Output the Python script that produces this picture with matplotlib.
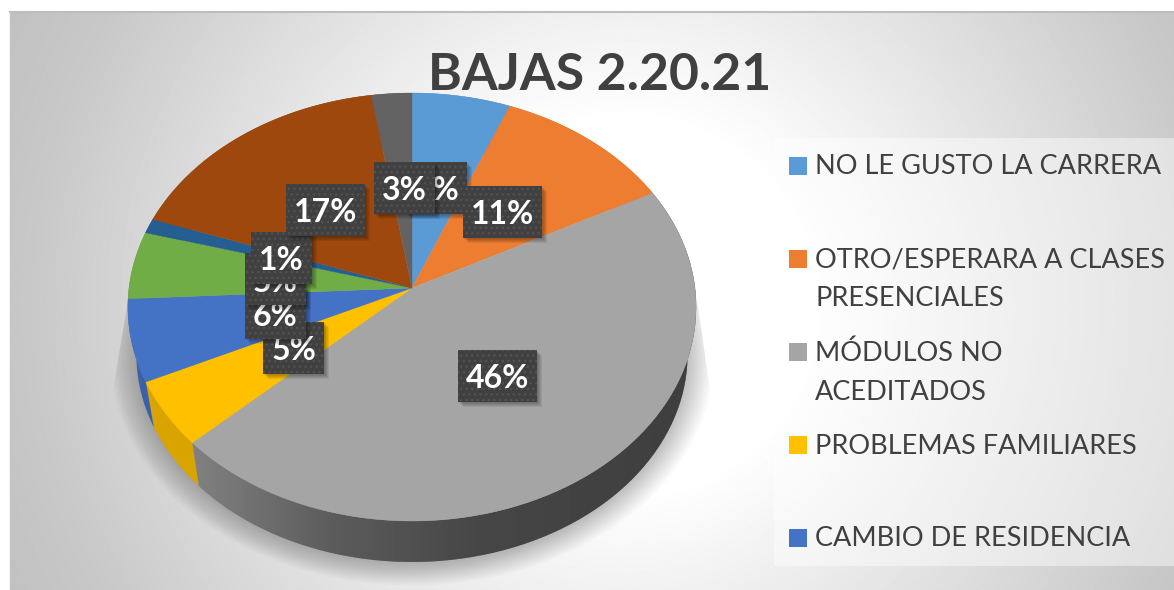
import matplotlib
matplotlib.use("Agg")
import matplotlib.pyplot as plt
import numpy as np
from matplotlib.patches import Polygon, Rectangle

title = "BAJAS 2.20.21"
legend_labels = [
    "NO LE GUSTO LA CARRERA",
    "OTRO/ESPERARA A CLASES\nPRESENCIALES",
    "MÓDULOS NO\nACEDITADOS",
    "PROBLEMAS FAMILIARES",
    "CAMBIO DE RESIDENCIA",
]
# slice sizes, labels as printed on it
values = [6.1, 11.2, 45.7, 5.0, 6.2, 5.1, 1.1, 17.1, 2.5]
data_labels = ["6%", "11%", "46%", "5%", "6%", "5%", "1%", "17%", "3%"]
colors = ["#5B9BD5", "#ED7D31", "#A5A5A5", "#FFC000", "#4472C4",
          "#70AD47", "#255E91", "#9E480E", "#636363"]
label_pos = [(436.5, 187.5), (502.5, 212), (497.5, 375.5), (293.5, 348),
             (275.5, 313), (275, 279), (281.5, 258), (325.5, 210), (404.5, 187.5)]

W, H = 1174, 590
CX, CY = 412, 288
RX, RY, K = 283, 212.3, 0.0888
DEPTH, SHRINK = 48, 0.97

plt.rcParams["font.family"] = ["Lato", "DejaVu Sans"]


def project(theta, scale=1.0, dy=0.0):
    # theta clockwise from 12 o'clock, perspective view of the pie circle
    x = np.sin(theta)
    y = np.cos(theta)
    d = 1 + K * y
    return np.column_stack([CX + scale * RX * x / d, CY + dy - scale * RY * y / d])


fig = plt.figure(figsize=(W / 100, H / 100), dpi=100)
ax = fig.add_axes([0, 0, 1, 1])
ax.axis("off")

# background
xx, yy = np.meshgrid(np.arange(W), np.arange(H))
dist = np.hypot(xx - 620, yy - 300)
bg = np.interp(dist, [0, 190, 300, 600, 720], [255, 255, 240, 200, 190]) / 255
ax.imshow(bg, cmap="gray", vmin=0, vmax=1, extent=(10, W, H, 12), aspect="auto", zorder=0)
ax.plot([10, W], [12, 12], color="#bdbdbd", lw=1.5, zorder=1)
ax.plot([10, 10], [12, H], color="#c4c4c4", lw=1, zorder=1)

# legend panel
ax.add_patch(Rectangle((774, 138), W - 774, 428, fc="white", ec="none", alpha=0.45, zorder=1))

# soft shadow under the pie
circle = np.linspace(0, 2 * np.pi, 361)
clip = Polygon([(128, 300), (108, 420), (60, H), (770, H), (716, 430), (697, 300)],
               transform=ax.transData, fc="none", ec="none")
ax.add_patch(clip)
for e in np.linspace(26, 0, 16):
    pts = project(circle, SHRINK + e / RX, DEPTH + 2)
    p = Polygon(pts, fc="black", ec="none", alpha=0.017, zorder=2)
    ax.add_patch(p)
    p.set_clip_path(clip)

# slices
edges = np.cumsum([0] + values) / sum(values) * 2 * np.pi
for i, v in enumerate(values):
    t = np.linspace(edges[i], edges[i + 1], 80)
    top = project(t)
    bottom = project(t, SHRINK, DEPTH)
    side_pts = np.vstack([top, bottom[::-1]])
    side = Polygon(side_pts, fc=np.array(matplotlib.colors.to_rgb(colors[i])) * 0.85,
                   ec="none", zorder=3)
    ax.add_patch(side)
    if colors[i] == "#A5A5A5":
        grad = np.interp(np.arange(W), [195, 330, 480, 700], [128, 92, 70, 62]) / 255
        im = ax.imshow(grad[None, :], cmap="gray", vmin=0, vmax=1, extent=(0, W, H, 0),
                       aspect="auto", zorder=3.5)
        im.set_clip_path(side)
for i, v in enumerate(values):
    t = np.linspace(edges[i], edges[i + 1], 80)
    face = np.vstack([[[CX, CY]], project(t)])
    ax.add_patch(Polygon(face, fc=colors[i], ec=colors[i], lw=0.3, zorder=4))

ax.set_xlim(0, W)
ax.set_ylim(H, 0)

# data labels, later slices sit on top of earlier ones
for i, (txt, (lx, ly)) in enumerate(zip(data_labels, label_pos)):
    bw = 79 if len(txt) == 3 else 61
    bh = 52
    z = 5 + i * 0.1
    for s in range(5):
        ax.add_patch(Rectangle((lx - bw / 2 + 1 + s, ly - bh / 2 + 1 + s), bw, bh, fc="black",
                               ec="none", alpha=0.07, zorder=z))
    ax.add_patch(Rectangle((lx - bw / 2, ly - bh / 2), bw, bh, fc="#404040", ec="none", zorder=z + 0.01))
    ax.add_patch(Rectangle((lx - bw / 2, ly - bh / 2), bw, bh, fc="none", ec="#525252", lw=0,
                           hatch="...", zorder=z + 0.02))
    ax.text(lx, ly + 3, txt, color="white", fontsize=23, fontweight="bold", ha="center",
            va="center", zorder=z + 0.03)

# title
ax.text(600, 75, title, color="#404040", fontsize=37.2, fontweight="bold", ha="center",
        va="center", zorder=8)

# legend
legend_y = [167, 260, 353, 446, 539]
for lab, c, y in zip(legend_labels, colors, legend_y):
    ax.add_patch(Rectangle((789, y - 10), 18, 18, fc=c, ec="none", zorder=8))
    for j, line in enumerate(lab.split("\n")):
        ax.text(815, y + j * 39, line, color="#404040", fontsize=19.5, ha="left",
                va="center", zorder=8)

fig.savefig("out.png", dpi=100)
